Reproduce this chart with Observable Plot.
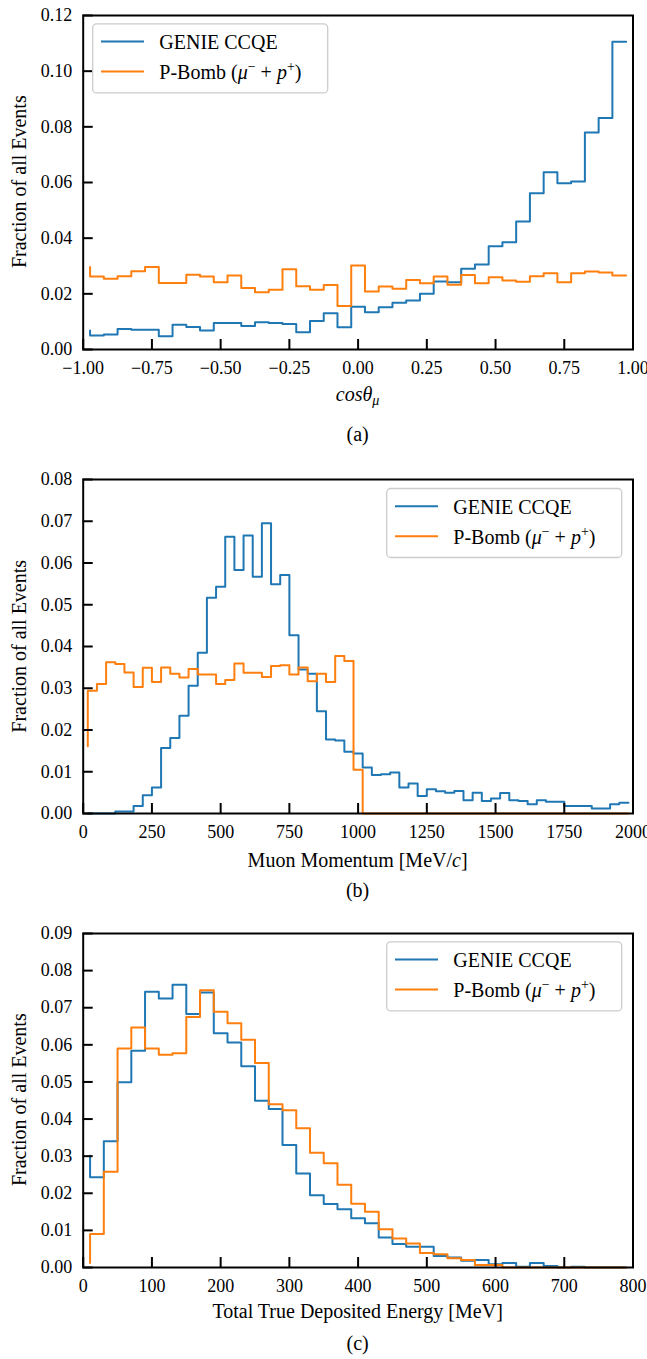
<!DOCTYPE html>
<html>
<head>
<meta charset="utf-8">
<script src="https://cdn.jsdelivr.net/npm/d3@7"></script>
<script src="https://cdn.jsdelivr.net/npm/@observablehq/plot@0.6"></script>
<style>
  body { margin: 0; background: #fff; }
  #root { position: relative; width: 647px; height: 1359px; overflow: hidden; font-family: 'Liberation Serif', 'Times New Roman', serif; }
  .panel { position: absolute; left: 0; }
  #overlay { position: absolute; left: 0; top: 0; pointer-events: none; }
</style>
</head>
<body>
<div id="root"></div>
<script>
// ---------------- data ----------------
const seriesNames = ["GENIE CCQE", "P-Bomb (μ⁻ + p⁺)"];
const seriesColors = ["#1f77b4", "#ff7f0e"];

// (a) cos(theta_mu): 40 bins over [-1, 1], values at bin centres
const binsA = { lo: -1, hi: 1, n: 40 };
const genieA = [0.0068, 0.0050, 0.0054, 0.0074, 0.0071, 0.0071, 0.0048, 0.0089, 0.0081, 0.0068,
                0.0095, 0.0095, 0.0084, 0.0098, 0.0095, 0.0092, 0.0062, 0.0102, 0.0130, 0.0080,
                0.0154, 0.0134, 0.0152, 0.0168, 0.0176, 0.0200, 0.0244, 0.0242, 0.0290, 0.0305,
                0.0371, 0.0385, 0.0460, 0.0561, 0.0637, 0.0597, 0.0604, 0.0780, 0.0832, 0.1106];
const pbombA = [0.0296, 0.0262, 0.0254, 0.0263, 0.0281, 0.0296, 0.0239, 0.0239, 0.0269, 0.0262,
                0.0242, 0.0266, 0.0221, 0.0206, 0.0215, 0.0288, 0.0227, 0.0215, 0.0232, 0.0156,
                0.0302, 0.0208, 0.0226, 0.0218, 0.0250, 0.0238, 0.0262, 0.0233, 0.0268, 0.0238,
                0.0260, 0.0248, 0.0243, 0.0263, 0.0274, 0.0242, 0.0274, 0.0280, 0.0277, 0.0266];
const xTicksA = [-1, -0.75, -0.5, -0.25, 0, 0.25, 0.5, 0.75, 1];
const yTicksA = [0, 0.02, 0.04, 0.06, 0.08, 0.10, 0.12];

// (b) muon momentum: 60 bins over [0, 2000] MeV/c
const binsB = { lo: 0, hi: 2000, n: 60 };
const genieB = [0, 0, 0, 0, 0.0005, 0.0005, 0.0018, 0.0044, 0.0062, 0.0157,
                0.0181, 0.0234, 0.0306, 0.0385, 0.0517, 0.0543, 0.0663, 0.0583, 0.0666, 0.0567,
                0.0695, 0.0549, 0.0571, 0.0427, 0.0345, 0.0335, 0.0245, 0.0177, 0.0175, 0.0148,
                0.0144, 0.0110, 0.0092, 0.0094, 0.0098, 0.0062, 0.0072, 0.0042, 0.0058, 0.0053,
                0.0050, 0.0054, 0.0032, 0.0050, 0.0030, 0.0036, 0.0049, 0.0032, 0.0030, 0.0022,
                0.0032, 0.0028, 0.0028, 0.0018, 0.0018, 0.0018, 0.0012, 0.0012, 0.0022, 0.0026];
const pbombB = [0.0161, 0.0294, 0.0310, 0.0362, 0.0358, 0.0338, 0.0303, 0.0349, 0.0315, 0.0350,
                0.0335, 0.0326, 0.0346, 0.0333, 0.0333, 0.0310, 0.0320, 0.0359, 0.0337, 0.0337,
                0.0327, 0.0353, 0.0355, 0.0333, 0.0350, 0.0317, 0.0335, 0.0315, 0.0377, 0.0365,
                0.0105, 0, 0, 0, 0, 0, 0, 0, 0, 0,
                0, 0, 0, 0, 0, 0, 0, 0, 0, 0,
                0, 0, 0, 0, 0, 0, 0, 0, 0, 0];
const xTicksB = [0, 250, 500, 750, 1000, 1250, 1500, 1750, 2000];
const yTicksB = [0, 0.01, 0.02, 0.03, 0.04, 0.05, 0.06, 0.07, 0.08];

// (c) total true deposited energy: 40 bins over [0, 800] MeV
const binsC = { lo: 0, hi: 800, n: 40 };
const genieC = [0.0301, 0.0243, 0.0340, 0.0499, 0.0584, 0.0743, 0.0725, 0.0762, 0.0683, 0.0741,
                0.0631, 0.0606, 0.0542, 0.0449, 0.0427, 0.0330, 0.0253, 0.0195, 0.0171, 0.0157,
                0.0133, 0.0119, 0.0081, 0.0063, 0.0056, 0.0056, 0.0031, 0.0027, 0.0018, 0.0020,
                0.0009, 0.0012, 0.0002, 0.0012, 0.0004, 0, 0.0002, 0, 0, 0];
const pbombC = [0.0012, 0.0090, 0.0258, 0.0590, 0.0647, 0.0590, 0.0573, 0.0577, 0.0675, 0.0747,
                0.0689, 0.0658, 0.0614, 0.0551, 0.0440, 0.0424, 0.0375, 0.0309, 0.0281, 0.0223,
                0.0172, 0.0150, 0.0103, 0.0078, 0.0065, 0.0039, 0.0036, 0.0025, 0.0020, 0.0007,
                0.0007, 0, 0, 0, 0, 0, 0, 0, 0, 0];
const xTicksC = [0, 100, 200, 300, 400, 500, 600, 700, 800];
const yTicksC = [0, 0.01, 0.02, 0.03, 0.04, 0.05, 0.06, 0.07, 0.08, 0.09];

const yLabel = "Fraction of all Events";

// ---------------- layout ----------------
const W = 647, ML = 82.7, MR = 14.5, MT = 15, FH = 334, MB = 31;
const FW = W - ML - MR;
const FONT = "'Liberation Serif', 'Times New Roman', serif";

const panels = [
  { id: "a", frameTop: 14.7, bins: binsA, genie: genieA, pbomb: pbombA, xTicks: xTicksA, yTicks: yTicksA,
    xFmt: d3.format(".2f"), legend: "left", xLabelDy: 52.7, capDy: 92.7,
    xLabel: '<tspan font-style="italic">cosθ</tspan><tspan font-style="italic" font-size="14" dy="4">μ</tspan>' },
  { id: "b", frameTop: 479.3, bins: binsB, genie: genieB, pbomb: pbombB, xTicks: xTicksB, yTicks: yTicksB,
    xFmt: d3.format("d"), legend: "right", xLabelDy: 53.5, capDy: 83.4,
    xLabel: 'Muon Momentum [MeV/<tspan font-style="italic">c</tspan>]' },
  { id: "c", frameTop: 932.7, bins: binsC, genie: genieC, pbomb: pbombC, xTicks: xTicksC, yTicks: yTicksC,
    xFmt: d3.format("d"), legend: "right", xLabelDy: 51.6, capDy: 83.3,
    xLabel: 'Total True Deposited Energy [MeV]' }
];

const root = document.getElementById("root");

function centres(b) {
  const w = (b.hi - b.lo) / b.n;
  return d3.range(b.n).map(i => b.lo + w * (i + 0.5));
}

let overlay = `<svg id="overlay" width="${W}" height="1359" xmlns="http://www.w3.org/2000/svg" style="font-family:${FONT}">`;

for (const p of panels) {
  const xs = centres(p.bins);
  const rows = [];
  xs.forEach((x, i) => rows.push({ x, y: p.genie[i], s: seriesNames[0] }));
  xs.forEach((x, i) => rows.push({ x, y: p.pbomb[i], s: seriesNames[1] }));

  const chart = Plot.plot({
    width: W,
    height: MT + FH + MB,
    marginLeft: ML, marginRight: MR, marginTop: MT, marginBottom: MB,
    style: { fontFamily: FONT, fontSize: "18px", color: "black", background: "transparent", overflow: "visible" },
    x: { domain: [p.bins.lo, p.bins.hi] },
    y: { domain: [p.yTicks[0], p.yTicks[p.yTicks.length - 1]] },
    color: { domain: seriesNames, range: seriesColors },
    marks: [
      Plot.line(rows.filter(r => r.s === seriesNames[0]), { x: "x", y: "y", stroke: "s", curve: "step-before", strokeWidth: 2 }),
      Plot.line(rows.filter(r => r.s === seriesNames[1]), { x: "x", y: "y", stroke: "s", curve: "step-before", strokeWidth: 2 }),
      Plot.tickX(p.xTicks, { x: d => d, insetTop: FH - 10, stroke: "black", strokeWidth: 2 }),
      Plot.tickY(p.yTicks, { y: d => d, insetRight: FW - 10, stroke: "black", strokeWidth: 2 }),
      Plot.axisX({ ticks: p.xTicks, tickSize: 0, tickPadding: 12, tickFormat: p.xFmt, label: null, fontSize: 18 }),
      Plot.axisY({ ticks: p.yTicks, tickSize: 0, tickPadding: 11, tickFormat: ".2f", label: null, fontSize: 18 }),
      Plot.frame({ stroke: "black", strokeWidth: 2 })
    ]
  });
  const holder = document.createElement("div");
  holder.className = "panel";
  holder.style.top = (p.frameTop - MT) + "px";
  holder.appendChild(chart);
  root.appendChild(holder);

  const fTop = p.frameTop, fBot = p.frameTop + FH, cx = ML + FW / 2;
  // y label
  overlay += `<text transform="translate(26,${fTop + FH / 2}) rotate(-90)" text-anchor="middle" font-size="20">${yLabel}</text>`;
  // x label
  overlay += `<text x="${cx}" y="${fBot + p.xLabelDy}" text-anchor="middle" font-size="20">${p.xLabel}</text>`;
  // caption
  overlay += `<text x="${cx}" y="${fBot + p.capDy}" text-anchor="middle" font-size="20">(${p.id})</text>`;
  // legend
  const lw = 235, lh = 69;
  const lx = p.legend === "left" ? ML + 10 : ML + FW - 10.8 - lw;
  const ly = fTop + 9.2;
  overlay += `<rect x="${lx}" y="${ly}" width="${lw}" height="${lh}" rx="4" fill="white" fill-opacity="0.8" stroke="#cccccc" stroke-width="1.3"/>`;
  overlay += `<line x1="${lx + 8.3}" x2="${lx + 51.3}" y1="${ly + 17.7}" y2="${ly + 17.7}" stroke="${seriesColors[0]}" stroke-width="2"/>`;
  overlay += `<line x1="${lx + 8.3}" x2="${lx + 51.3}" y1="${ly + 47.7}" y2="${ly + 47.7}" stroke="${seriesColors[1]}" stroke-width="2"/>`;
  overlay += `<text x="${lx + 66.6}" y="${ly + 25.3}" font-size="20">${seriesNames[0]}</text>`;
  overlay += `<text x="${lx + 66.6}" y="${ly + 55.5}" font-size="20">P-Bomb (<tspan font-style="italic">μ</tspan><tspan font-size="14" dy="-8">−</tspan><tspan dy="8"> + </tspan><tspan font-style="italic">p</tspan><tspan font-size="14" dy="-8">+</tspan><tspan dy="8">)</tspan></text>`;
}
overlay += `</svg>`;
root.insertAdjacentHTML("beforeend", overlay);
</script>
</body>
</html>
